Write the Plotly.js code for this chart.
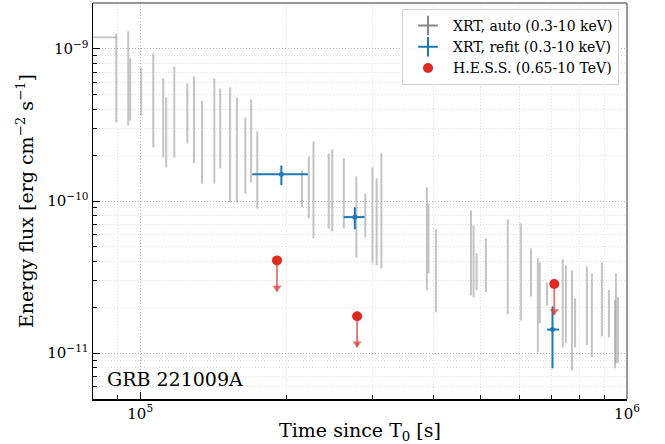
<!DOCTYPE html>
<html><head><meta charset="utf-8">
<script src="https://cdn.plot.ly/plotly-3.0.1.min.js"></script>
<style>html,body{margin:0;padding:0;background:#fff}#chart{width:665px;height:444px}</style>
</head><body><div id="chart"></div>
<script>
// ---- XRT automatic light curve (gray) ----
const xrtTime = [8.93e4, 9.45e4, 9.54e4, 1.005e5, 1.064e5, 1.115e5, 1.131e5, 1.175e5, 1.25e5, 1.29e5,
  1.34e5, 1.42e5, 1.46e5, 1.53e5, 1.58e5, 1.645e5, 1.69e5, 1.74e5, 2.15e5, 2.22e5,
  2.27e5, 2.44e5, 2.48e5, 2.62e5, 2.78e5, 2.90e5, 3.00e5, 3.06e5, 3.13e5, 3.88e5,
  3.91e5, 4.05e5, 4.78e5, 4.84e5, 4.91e5, 5.13e5, 5.69e5, 6.05e5, 6.35e5, 6.56e5,
  6.62e5, 6.85e5, 7.38e5, 7.49e5, 7.71e5, 7.82e5, 8.27e5, 8.47e5, 8.88e5, 9.18e5,
  9.45e5, 9.49e5, 9.58e5];
const xrtFlux = [6.43e-10, 6.38e-10, 5.40e-10, 5.24e-10, 4.57e-10, 3.51e-10, 2.82e-10, 3.85e-10, 3.76e-10, 3.41e-10,
  2.44e-10, 2.88e-10, 3.00e-10, 2.34e-10, 2.17e-10, 1.99e-10, 2.48e-10, 1.60e-10, 1.20e-10, 1.23e-10,
  1.18e-10, 1.17e-10, 1.16e-10, 1.12e-10, 7.86e-11, 7.98e-11, 8.04e-11, 7.29e-11, 8.68e-11, 5.64e-11,
  5.68e-11, 3.48e-11, 4.56e-11, 4.01e-11, 3.42e-11, 3.78e-11, 3.69e-11, 3.42e-11, 3.40e-11, 2.06e-11,
  2.49e-11, 2.45e-11, 2.13e-11, 2.10e-11, 1.64e-11, 1.58e-11, 2.05e-11, 1.77e-11, 2.26e-11, 1.81e-11,
  1.33e-11, 1.69e-11, 1.41e-11];
const xrtFluxHi = [1.26e-9, 1.30e-9, 8.63e-10, 7.54e-10, 9.31e-10, 6.38e-10, 4.79e-10, 7.65e-10, 5.92e-10, 6.58e-10,
  4.57e-10, 6.38e-10, 5.49e-10, 5.57e-10, 4.79e-10, 3.54e-10, 4.65e-10, 2.86e-10, 1.59e-10, 1.96e-10,
  2.46e-10, 2.05e-10, 2.18e-10, 1.90e-10, 1.45e-10, 1.12e-10, 1.66e-10, 1.41e-10, 2.08e-10, 1.23e-10,
  9.64e-11, 6.51e-11, 8.68e-11, 6.91e-11, 4.53e-11, 5.68e-11, 7.57e-11, 7.13e-11, 4.89e-11, 4.20e-11,
  3.95e-11, 2.92e-11, 4.13e-11, 3.78e-11, 3.50e-11, 2.29e-11, 3.72e-11, 3.35e-11, 3.95e-11, 2.59e-11,
  2.23e-11, 3.35e-11, 2.33e-11];
const xrtFluxLo = [3.28e-10, 3.13e-10, 3.38e-10, 3.65e-10, 2.25e-10, 1.93e-10, 1.66e-10, 1.93e-10, 2.39e-10, 1.77e-10,
  1.30e-10, 1.30e-10, 1.64e-10, 9.79e-11, 9.79e-11, 1.12e-10, 1.32e-10, 8.94e-11, 9.08e-11, 7.69e-11,
  5.68e-11, 6.61e-11, 6.31e-11, 6.61e-11, 4.26e-11, 5.77e-11, 3.89e-11, 3.78e-11, 3.61e-11, 2.59e-11,
  3.35e-11, 1.86e-11, 2.40e-11, 2.33e-11, 2.59e-11, 2.51e-11, 1.80e-11, 1.64e-11, 2.36e-11, 1.01e-11,
  1.57e-11, 2.06e-11, 1.09e-11, 1.16e-11, 7.72e-12, 1.09e-11, 1.13e-11, 9.40e-12, 1.29e-11, 1.27e-11,
  7.96e-12, 8.59e-12, 8.59e-12];
// first long XRT bin (horizontal bar at the top left)
const xrtBin0Time = [8.4e4];
const xrtBin0TimeLo = [7.0e4];
const xrtBin0TimeHi = [8.93e4];
const xrtBin0Flux = [1.19e-9];

// ---- XRT refit (blue) ----
const refitTime = [1.95e5, 2.76e5, 7.03e5];
const refitTimeLo = [1.70e5, 2.62e5, 6.85e5];
const refitTimeHi = [2.21e5, 2.89e5, 7.25e5];
const refitFlux = [1.50e-10, 7.84e-11, 1.43e-11];
const refitFluxLo = [1.27e-10, 6.51e-11, 7.96e-12];
const refitFluxHi = [1.71e-10, 9.08e-11, 2.03e-11];

// ---- H.E.S.S. upper limits (red) ----
const hessTime = [1.91e5, 2.79e5, 7.09e5];
const hessUL = [4.07e-11, 1.75e-11, 2.85e-11];

// ---- axis ticks ----
const xMajor = [1e5, 1e6];
const xMajorText = ['10<sup>5</sup>', '10<sup>6</sup>'];
const xMinor = [8e4, 9e4, 2e5, 3e5, 4e5, 5e5, 6e5, 7e5, 8e5, 9e5];
const yMajor = [1e-11, 1e-10, 1e-9];
const yMajorText = ['10<sup>\u221211</sup>', '10<sup>\u221210</sup>', '10<sup>\u22129</sup>'];
const yMinor = [6e-12, 7e-12, 8e-12, 9e-12, 2e-11, 3e-11, 4e-11, 5e-11, 6e-11, 7e-11, 8e-11, 9e-11,
  2e-10, 3e-10, 4e-10, 5e-10, 6e-10, 7e-10, 8e-10, 9e-10];

// style constants
const ARROW_DEX = 0.205;   // matplotlib uplims arrow length
const HEAD_DEX = 0.18;
const serif = 'DejaVu Serif';
const gray = 'rgba(160,160,160,0.62)';
const blue = '#1f77b4';
const red = '#dc2b1e';
const redLight = 'rgba(222,60,50,0.72)';

const traces = [];
traces.push({
  type: 'scatter', mode: 'markers', x: xrtTime, y: xrtFlux, showlegend: false, hoverinfo: 'skip',
  marker: {size: 0.1, color: gray},
  error_y: {type: 'data', symmetric: false,
    array: xrtFlux.map((v, i) => xrtFluxHi[i] - v),
    arrayminus: xrtFlux.map((v, i) => v - xrtFluxLo[i]),
    color: gray, thickness: 2, width: 0}
});
traces.push({
  type: 'scatter', mode: 'markers', x: xrtBin0Time, y: xrtBin0Flux, showlegend: false, hoverinfo: 'skip',
  marker: {size: 0.1, color: gray},
  error_x: {type: 'data', symmetric: false,
    array: xrtBin0Time.map((v, i) => xrtBin0TimeHi[i] - v),
    arrayminus: xrtBin0Time.map((v, i) => v - xrtBin0TimeLo[i]),
    color: gray, thickness: 1.8, width: 0}
});
traces.push({
  type: 'scatter', mode: 'markers', x: refitTime, y: refitFlux, showlegend: false, hoverinfo: 'skip',
  marker: {size: 5, color: blue},
  error_x: {type: 'data', symmetric: false,
    array: refitTime.map((v, i) => refitTimeHi[i] - v),
    arrayminus: refitTime.map((v, i) => v - refitTimeLo[i]),
    color: blue, thickness: 2, width: 0},
  error_y: {type: 'data', symmetric: false,
    array: refitFlux.map((v, i) => refitFluxHi[i] - v),
    arrayminus: refitFlux.map((v, i) => v - refitFluxLo[i]),
    color: blue, thickness: 2, width: 0}
});
// H.E.S.S. arrows
traces.push({
  type: 'scatter', mode: 'markers', x: hessTime, y: hessUL, showlegend: false, hoverinfo: 'skip',
  marker: {size: 0.1, color: redLight},
  error_y: {type: 'data', symmetric: false,
    array: hessUL.map(() => 0),
    arrayminus: hessUL.map(v => v - v * Math.pow(10, -ARROW_DEX)),
    color: redLight, thickness: 1.8, width: 0}
});
traces.push({
  type: 'scatter', mode: 'markers', x: hessTime, y: hessUL.map(v => v * Math.pow(10, -HEAD_DEX)),
  showlegend: false, hoverinfo: 'skip',
  marker: {symbol: 'triangle-down', size: 8, color: redLight}
});
traces.push({
  type: 'scatter', mode: 'markers', x: hessTime, y: hessUL, showlegend: false, hoverinfo: 'skip',
  marker: {symbol: 'circle', size: 10, color: red}
});
// legend entries
traces.push({type: 'scatter', mode: 'markers', x: [null], y: [null], name: 'XRT, auto (0.3-10 keV)',
  marker: {symbol: 'cross-thin', size: 14, color: '#888', line: {width: 2, color: '#888'}}});
traces.push({type: 'scatter', mode: 'markers', x: [null], y: [null], name: 'XRT, refit (0.3-10 keV)',
  marker: {symbol: 'cross-thin', size: 14, color: blue, line: {width: 2, color: blue}}});
traces.push({type: 'scatter', mode: 'markers', x: [null], y: [null], name: 'H.E.S.S. (0.65-10 TeV)',
  marker: {symbol: 'circle', size: 10, color: red}});

const axisCommon = {
  type: 'log', ticks: 'inside', ticklen: 7, tickwidth: 1, tickcolor: 'black',
  showline: true, linecolor: 'black', linewidth: 1.5, mirror: false,
  showgrid: true, gridcolor: '#b0b0b0', griddash: '1px,2px', gridwidth: 1, zeroline: false,
  tickfont: {family: serif, size: 15, color: 'black'}, tickmode: 'array'
};
const minorCommon = {tickmode: 'array', ticks: 'inside', ticklen: 4, tickcolor: 'black',
  showgrid: true, gridcolor: '#e0e0e0', griddash: '1px,2px', gridwidth: 1};
const layout = {
  width: 665, height: 444,
  margin: {l: 93, r: 38, t: 3, b: 45, pad: 0},
  paper_bgcolor: 'white', plot_bgcolor: 'white',
  font: {family: serif, size: 15, color: 'black'},
  showlegend: true,
  legend: {x: 0.985, y: 0.985, xanchor: 'right', yanchor: 'top', itemwidth: 40,
    bgcolor: 'rgba(255,255,255,0.85)', bordercolor: '#d0d0d0', borderwidth: 1,
    font: {family: serif, size: 14, color: 'black'}},
  xaxis: Object.assign({}, axisCommon, {
    range: [Math.log10(8e4), 6], tickvals: xMajor, ticktext: xMajorText,
    minor: Object.assign({tickvals: xMinor}, minorCommon),
    title: {text: 'Time since T<sub>0</sub> [s]', font: {family: serif, size: 19}, standoff: 4}
  }),
  yaxis: Object.assign({}, axisCommon, {
    range: [Math.log10(5e-12), Math.log10(2e-9)], tickvals: yMajor, ticktext: yMajorText,
    minor: Object.assign({tickvals: yMinor}, minorCommon),
    title: {text: 'Energy flux [erg cm<sup>\u22122</sup> s<sup>\u22121</sup>]', font: {family: serif, size: 19}, standoff: 8}
  }),
  shapes: [
    {type: 'line', xref: 'paper', yref: 'paper', x0: 0, x1: 1, y0: 1, y1: 1, line: {color: '#777', width: 1.5}},
    {type: 'line', xref: 'paper', yref: 'paper', x0: 1, x1: 1, y0: 0, y1: 1, line: {color: '#777', width: 1.5}}
  ],
  annotations: [
    {xref: 'paper', yref: 'paper', x: 0.022, y: 0.05, xanchor: 'left', yanchor: 'middle',
      text: 'GRB 221009A', showarrow: false, font: {family: serif, size: 19, color: 'black'}}
  ]
};
Plotly.newPlot('chart', traces, layout, {displayModeBar: false, staticPlot: true});
</script></body></html>
